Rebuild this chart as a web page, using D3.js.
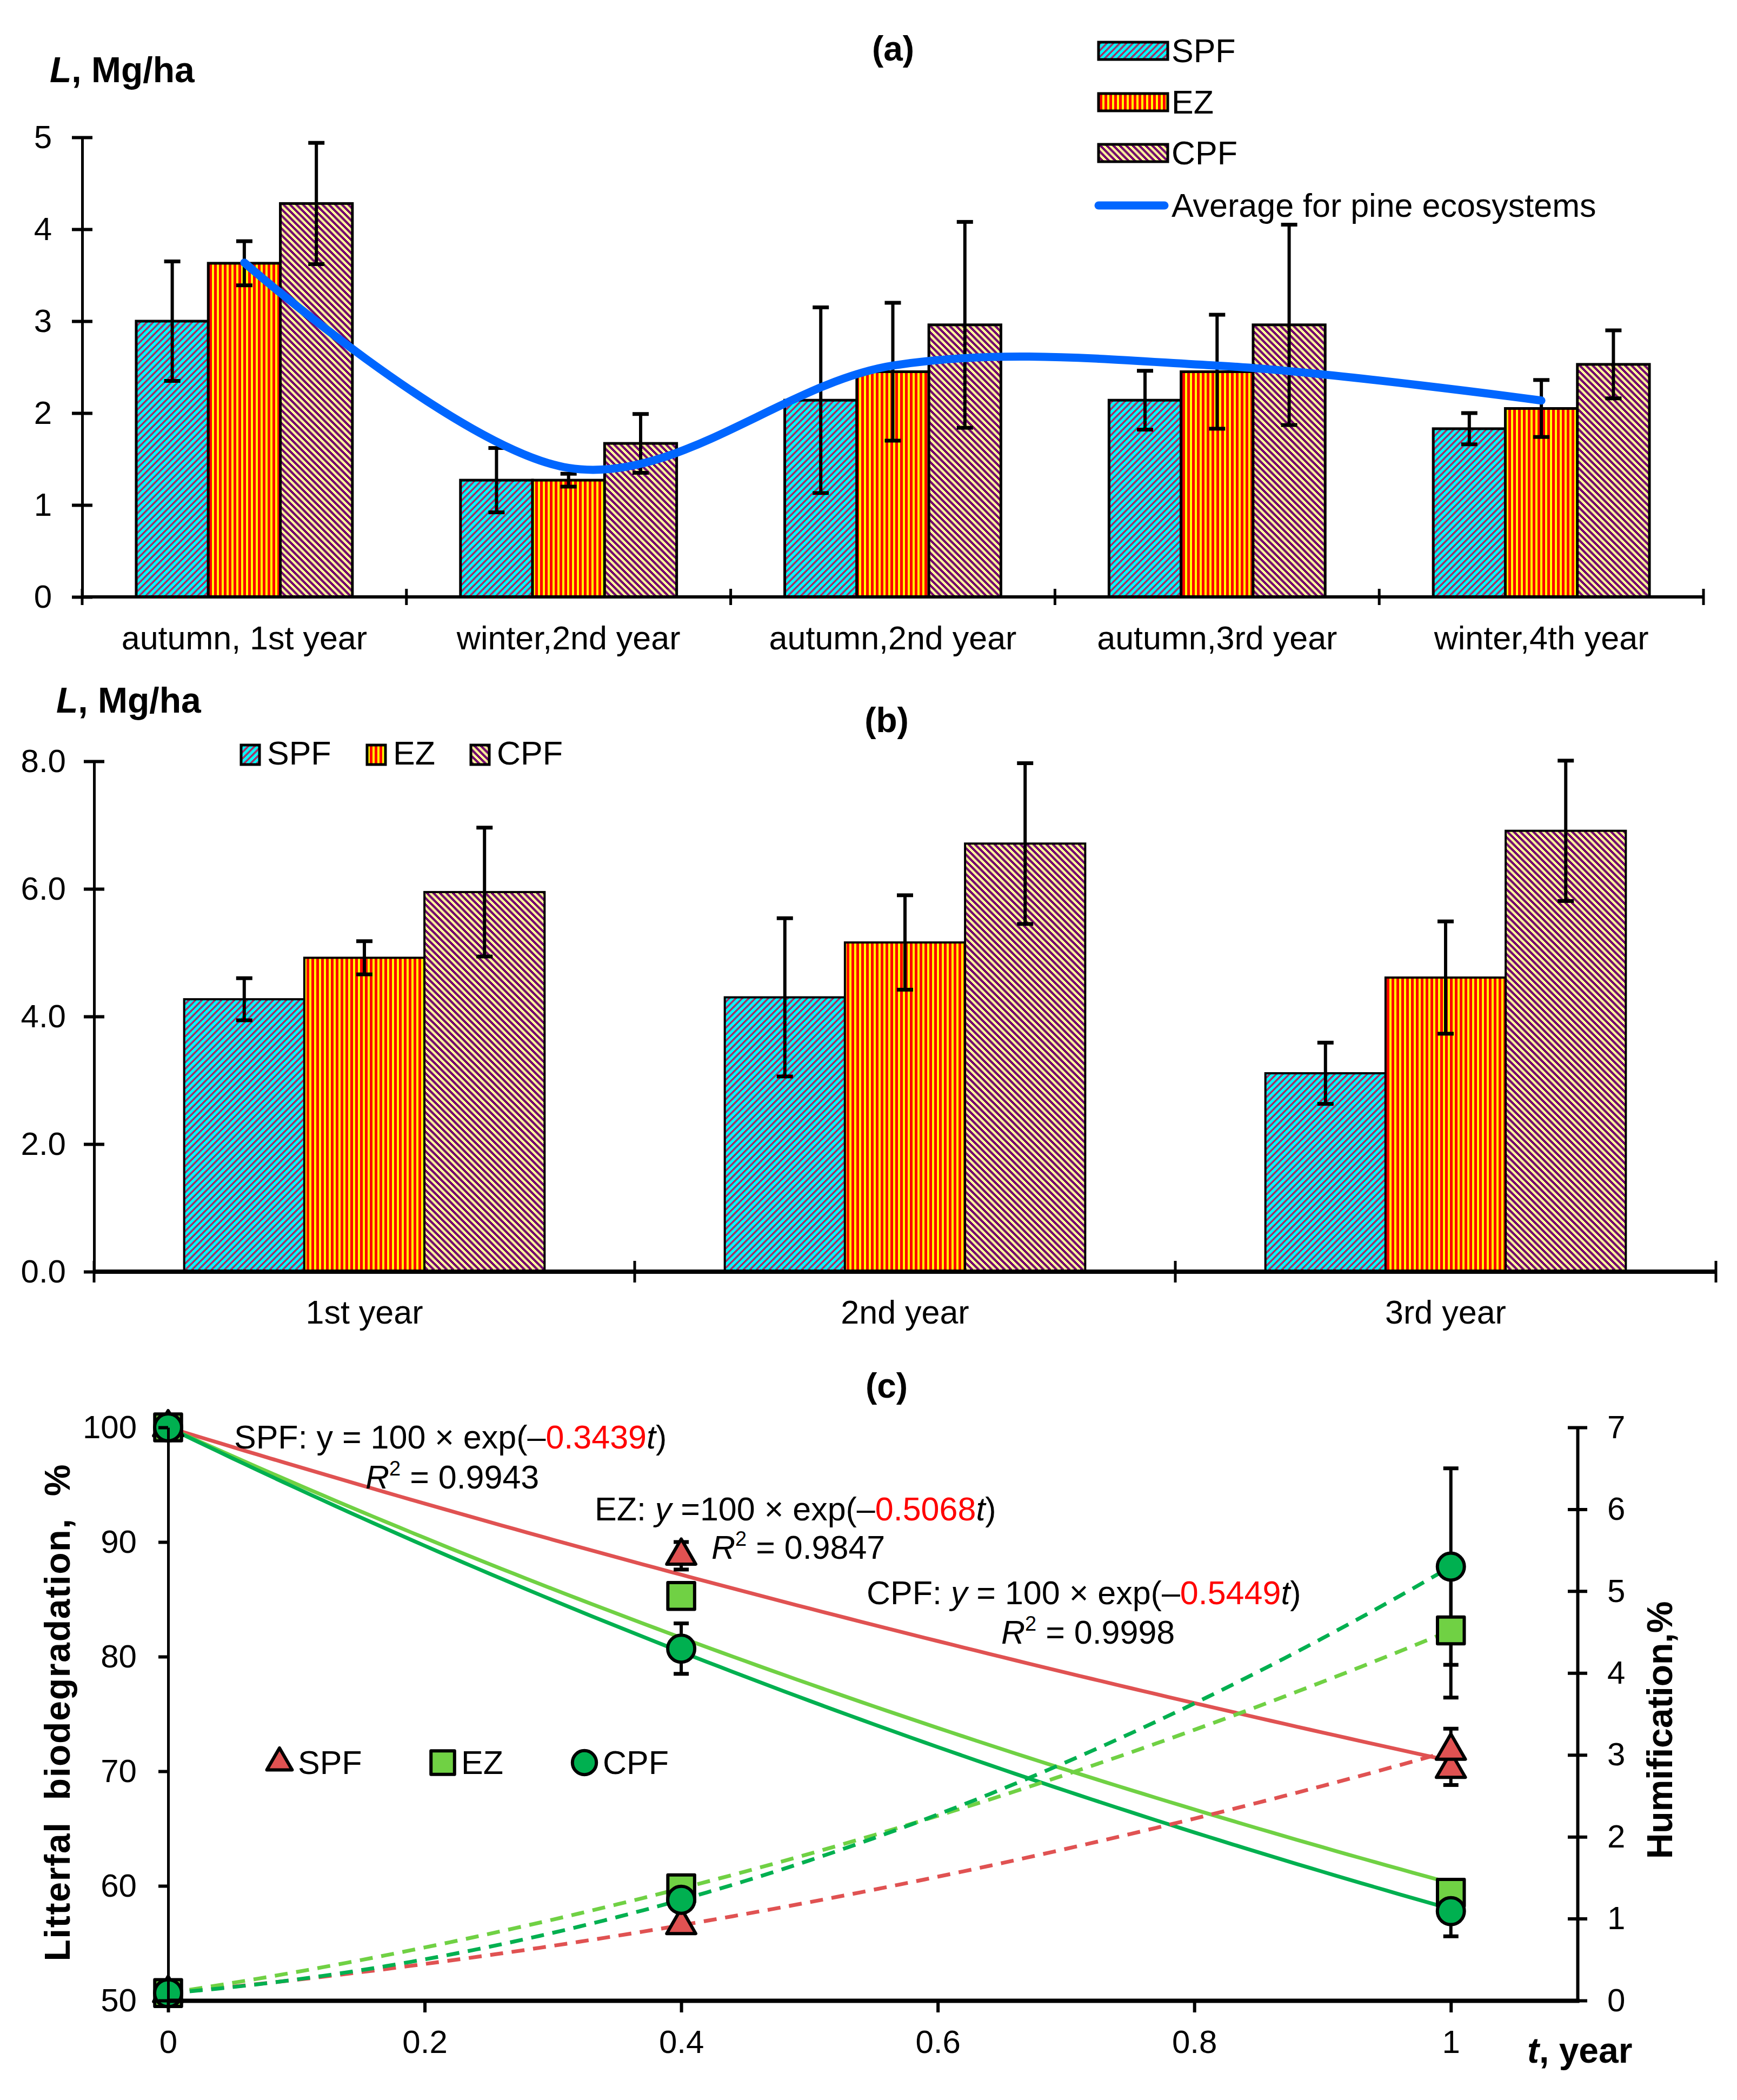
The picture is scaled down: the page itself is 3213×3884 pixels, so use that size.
<!DOCTYPE html>
<html>
<head>
<meta charset="utf-8">
<script src="https://cdn.jsdelivr.net/npm/d3@7"></script>
<style>
  body { margin: 0; background: #fff; }
  text { font-family: "Liberation Sans", Arial, sans-serif; }
</style>
</head>
<body>
<div id="chart"></div>
<script>
// Litterfall figure: (a) seasonal stocks, (b) yearly stocks, (c) biodegradation / humification

var series = ["SPF", "EZ", "CPF"];

// panel (a)
var catsA = ["autumn, 1st year", "winter,2nd year", "autumn,2nd year", "autumn,3rd year", "winter,4th year"];
var spfA = [3.00, 1.27, 2.14, 2.14, 1.83];
var ezA  = [3.63, 1.27, 2.45, 2.45, 2.05];
var cpfA = [4.28, 1.67, 2.96, 2.96, 2.53];
var spfAErr = [0.65, 0.35, 1.01, 0.32, 0.17];
var ezAErr  = [0.24, 0.07, 0.75, 0.62, 0.31];
var cpfAErr = [0.66, 0.32, 1.12, 1.09, 0.37];
var ticksA = [0, 1, 2, 3, 4, 5];

// panel (b)
var catsB = ["1st year", "2nd year", "3rd year"];
var spfB = [4.27, 4.30, 3.11];
var ezB  = [4.92, 5.16, 4.61];
var cpfB = [5.95, 6.71, 6.91];
var spfBErr = [0.33, 1.24, 0.48];
var ezBErr  = [0.26, 0.74, 0.88];
var cpfBErr = [1.01, 1.26, 1.10];
var ticksB = [0, 2, 4, 6, 8];

// panel (c)
var tYear = [0, 0.4, 1];
var bioSPF = [100, 88.8, 70.2];
var bioEZ  = [100, 85.3, 59.4];
var bioCPF = [100, 80.7, 57.8];
var bioSPFErr = [0, 1.2, 1.4];
var bioEZErr  = [0, 0, 0.5];
var bioCPFErr = [0, 2.2, 2.2];
var humSPF = [0.09, 0.92, 3.05];
var humEZ  = [0.09, 1.37, 4.52];
var humCPF = [0.09, 1.23, 5.30];
var humSPFErr = [0, 0, 0.27];
var humEZErr  = [0, 0.14, 0.82];
var humCPFErr = [0, 0, 1.20];
var rateK = ["0.3439", "0.5068", "0.5449"];
var rSq = ["0.9943", "0.9847", "0.9998"];
var ticksCx = [0, 0.2, 0.4, 0.6, 0.8, 1];
var ticksCl = [50, 60, 70, 80, 90, 100];
var ticksCr = [0, 1, 2, 3, 4, 5, 6, 7];

var colC = {SPF: "#E05252", EZ: "#70D144", CPF: "#00B050"};

var svg = d3.select("#chart").append("svg")
    .attr("width", 3213)
    .attr("height", 3884);

// hatch fills, drawn as crisp pixel staircases like the office-style patterns
var defs = svg.append("defs");
function diag(id, bg, fg, size, w, dir) {
  var p = defs.append("pattern")
      .attr("id", id)
      .attr("patternUnits", "userSpaceOnUse")
      .attr("width", size).attr("height", size);
  p.append("rect").attr("width", size).attr("height", size).attr("fill", bg);
  var g = p.append("g").attr("fill", fg).attr("shape-rendering", "crispEdges");
  for (var r = 0; r < size / 2; r++) {
    var x0 = ((dir * -2 * r) % size + size) % size;
    [x0, x0 - size].forEach(function(xx) {
      g.append("rect").attr("x", xx).attr("y", 2 * r).attr("width", w).attr("height", 2);
    });
  }
}
function vert(id, bg, fg, size, w) {
  var p = defs.append("pattern")
      .attr("id", id)
      .attr("patternUnits", "userSpaceOnUse")
      .attr("width", size).attr("height", size);
  p.append("rect").attr("width", size).attr("height", size).attr("fill", bg);
  p.append("rect").attr("width", w).attr("height", size).attr("fill", fg)
      .attr("shape-rendering", "crispEdges");
}
diag("pSPF", "#00FFFF", "#A83064", 12, 5, 1);
vert("pEZ", "#FFFF00", "#FF0000", 9, 4.5);
diag("pCPF", "#FFFF99", "#730070", 12, 6, -1);
var fills = {SPF: "url(#pSPF)", EZ: "url(#pEZ)", CPF: "url(#pCPF)"};

function boldLabel(x, y, size) {
  var t = svg.append("text").attr("x", x).attr("y", y)
      .attr("font-size", size).attr("font-weight", "bold");
  t.append("tspan").attr("font-style", "italic").text("L");
  t.append("tspan").text(", Mg/ha");
}

// generic grouped bar panel
function barPanel(cats, vals, errs, x, y, opt) {
  var sub = d3.scaleBand().domain(series)
      .range([-x.bandwidth() / 3, x.bandwidth() / 3]);
  var rows = [];
  cats.forEach(function(c, i) {
    series.forEach(function(s, j) {
      rows.push({c: c, s: s, v: vals[j][i], e: errs[j][i]});
    });
  });
  var cx = function(d) { return x(d.c) + x.bandwidth() / 2 + sub(d.s) + sub.bandwidth() / 2; };

  svg.append("g").selectAll("rect").data(rows).enter().append("rect")
      .attr("x", function(d) { return x(d.c) + x.bandwidth() / 2 + sub(d.s); })
      .attr("y", function(d) { return y(d.v); })
      .attr("width", sub.bandwidth())
      .attr("height", function(d) { return y(0) - y(d.v); })
      .attr("fill", function(d) { return fills[d.s]; })
      .attr("stroke", "#000")
      .attr("stroke-width", opt.barStroke);

  var eg = svg.append("g").attr("stroke", "#000").attr("stroke-width", 6);
  rows.forEach(function(d) {
    var xx = cx(d), y1 = y(d.v - d.e), y2 = y(d.v + d.e);
    eg.append("line").attr("x1", xx).attr("x2", xx).attr("y1", y1).attr("y2", y2);
    eg.append("line").attr("x1", xx - 15).attr("x2", xx + 15).attr("y1", y1).attr("y2", y1).attr("stroke-width", 7);
    eg.append("line").attr("x1", xx - 15).attr("x2", xx + 15).attr("y1", y2).attr("y2", y2).attr("stroke-width", 7);
  });

  // y axis with cross ticks
  var ay = svg.append("g")
      .attr("transform", "translate(" + x.range()[0] + ",0)")
      .call(d3.axisLeft(y).tickValues(opt.ticks).tickFormat(opt.fmt)
            .tickSize(19).tickPadding(opt.pad).tickSizeOuter(0));
  ay.attr("font-size", 60);
  ay.select(".domain").attr("stroke-width", 5);
  ay.selectAll(".tick line").attr("x1", 19).attr("x2", -19).attr("stroke-width", 6);
  ay.selectAll(".tick text").attr("fill", "#000");

  // x axis: line, category boundary ticks, labels
  var base = y(0);
  var bounds = cats.map(function(c) { return x(c); }).concat([x.range()[1]]);
  svg.append("line").attr("x1", x.range()[0]).attr("x2", x.range()[1])
      .attr("y1", base).attr("y2", base)
      .attr("stroke", "#000").attr("stroke-width", opt.axStroke);
  svg.append("g").selectAll("line").data(bounds).enter().append("line")
      .attr("x1", function(d) { return d; }).attr("x2", function(d) { return d; })
      .attr("y1", base - opt.tick).attr("y2", base + opt.tick)
      .attr("stroke", "#000").attr("stroke-width", 5);
  svg.append("g").selectAll("text").data(cats).enter().append("text")
      .attr("x", function(d) { return x(d) + x.bandwidth() / 2; })
      .attr("y", opt.labelY)
      .attr("text-anchor", "middle")
      .attr("font-size", 61)
      .text(function(d) { return d; });
  return cx;
}

// ---------- panel (a)
var xA = d3.scaleBand().domain(catsA).range([152, 3151]);
var yA = d3.scaleLinear().domain([0, 5]).range([1104, 254]);
barPanel(catsA, [spfA, ezA, cpfA], [spfAErr, ezAErr, cpfAErr], xA, yA,
  {barStroke: 5, ticks: ticksA, fmt: d3.format("d"), pad: 37, axStroke: 6, tick: 15, labelY: 1201});

var avgA = catsA.map(function(c, i) { return {c: c, v: d3.mean([spfA[i], ezA[i], cpfA[i]])}; });
svg.append("path").datum(avgA)
    .attr("fill", "none").attr("stroke", "#0066FF").attr("stroke-width", 15)
    .attr("stroke-linecap", "round")
    .attr("d", d3.line()
        .x(function(d) { return xA(d.c) + xA.bandwidth() / 2; })
        .y(function(d) { return yA(d.v); })
        .curve(d3.curveCatmullRom.alpha(0)));

boldLabel(92, 152, 66);
svg.append("text").attr("x", 1652).attr("y", 112).attr("text-anchor", "middle")
    .attr("font-size", 64).attr("font-weight", "bold").text("(a)");

// legend (a)
var legA = ["SPF", "EZ", "CPF", "Average for pine ecosystems"];
var legAy = [94, 189, 283, 380];
legA.forEach(function(name, i) {
  if (i < 3) {
    svg.append("rect").attr("x", 2032).attr("y", legAy[i] - 16).attr("width", 128).attr("height", 32)
        .attr("fill", fills[name]).attr("stroke", "#000").attr("stroke-width", 5);
  } else {
    svg.append("line").attr("x1", 2032).attr("x2", 2154).attr("y1", legAy[i]).attr("y2", legAy[i])
        .attr("stroke", "#0066FF").attr("stroke-width", 15).attr("stroke-linecap", "round");
  }
  svg.append("text").attr("x", 2167).attr("y", legAy[i] + 21).attr("font-size", 61).text(name);
});

// ---------- panel (b)
var xB = d3.scaleBand().domain(catsB).range([174, 3174]);
var yB = d3.scaleLinear().domain([0, 8]).range([2352, 1408]);
barPanel(catsB, [spfB, ezB, cpfB], [spfBErr, ezBErr, cpfBErr], xB, yB,
  {barStroke: 4, ticks: ticksB, fmt: d3.format(".1f"), pad: 33, axStroke: 8, tick: 20, labelY: 2448});

boldLabel(104, 1318, 66);
svg.append("text").attr("x", 1640).attr("y", 1354).attr("text-anchor", "middle")
    .attr("font-size", 64).attr("font-weight", "bold").text("(b)");

var legBx = [446, 679, 871];
series.forEach(function(s, i) {
  svg.append("rect").attr("x", legBx[i]).attr("y", 1378).attr("width", 34).attr("height", 36)
      .attr("fill", fills[s]).attr("stroke", "#000").attr("stroke-width", 5);
  svg.append("text").attr("x", legBx[i] + 48).attr("y", 1414).attr("font-size", 61).text(s);
});

// ---------- panel (c)
var xC = d3.scaleLinear().domain([0, 1.1]).range([311, 2921]);
var yL = d3.scaleLinear().domain([50, 100]).range([3700, 2640]);
var yR = d3.scaleLinear().domain([0, 7]).range([3700, 2640]);

svg.append("text").attr("x", 1640).attr("y", 2585).attr("text-anchor", "middle")
    .attr("font-size", 64).attr("font-weight", "bold").text("(c)");

var bio = {SPF: bioSPF, EZ: bioEZ, CPF: bioCPF};
var bioErr = {SPF: bioSPFErr, EZ: bioEZErr, CPF: bioCPFErr};
var hum = {SPF: humSPF, EZ: humEZ, CPF: humCPF};
var humErr = {SPF: humSPFErr, EZ: humEZErr, CPF: humCPFErr};
var shapes = {SPF: d3.symbolTriangle, EZ: d3.symbolSquare, CPF: d3.symbolCircle};
var areas = {SPF: 1250, EZ: 2450, CPF: 1960};

// exponential trend lines from the fitted coefficients
var tt = d3.range(0, 1.0001, 0.01);
series.forEach(function(s, i) {
  var k = +rateK[i];
  svg.append("path").datum(tt)
      .attr("fill", "none").attr("stroke", colC[s]).attr("stroke-width", 7)
      .attr("d", d3.line()
          .x(function(t) { return xC(t); })
          .y(function(t) { return yL(100 * Math.exp(-k * t)); }));
});

// humification: 2nd-order polynomial trend through the three points
function quad(ys) {
  var x0 = tYear[0], x1 = tYear[1], x2 = tYear[2];
  return function(t) {
    return ys[0] * (t - x1) * (t - x2) / ((x0 - x1) * (x0 - x2)) +
           ys[1] * (t - x0) * (t - x2) / ((x1 - x0) * (x1 - x2)) +
           ys[2] * (t - x0) * (t - x1) / ((x2 - x0) * (x2 - x1));
  };
}
["SPF", "EZ", "CPF"].forEach(function(s) {
  var f = quad(hum[s]);
  svg.append("path").datum(tt)
      .attr("fill", "none").attr("stroke", colC[s]).attr("stroke-width", 7)
      .attr("stroke-dasharray", "24,16")
      .attr("d", d3.line()
          .x(function(t) { return xC(t); })
          .y(function(t) { return yR(f(t)); }));
});

// error bars
var ceg = svg.append("g").attr("stroke", "#000").attr("stroke-width", 6);
function errBar(t, v, e, sc) {
  if (!e) return;
  var xx = xC(t), y1 = sc(v - e), y2 = sc(v + e);
  ceg.append("line").attr("x1", xx).attr("x2", xx).attr("y1", y1).attr("y2", y2);
  ceg.append("line").attr("x1", xx - 14).attr("x2", xx + 14).attr("y1", y1).attr("y2", y1).attr("stroke-width", 7);
  ceg.append("line").attr("x1", xx - 14).attr("x2", xx + 14).attr("y1", y2).attr("y2", y2).attr("stroke-width", 7);
}
series.forEach(function(s) {
  tYear.forEach(function(t, i) {
    errBar(t, bio[s][i], bioErr[s][i], yL);
    errBar(t, hum[s][i], humErr[s][i], yR);
  });
});

// markers
series.forEach(function(s) {
  var sym = d3.symbol().type(shapes[s]).size(areas[s]);
  var g = svg.append("g");
  tYear.forEach(function(t, i) {
    [[bio[s][i], yL], [hum[s][i], yR]].forEach(function(p) {
      g.append("path").attr("d", sym())
          .attr("transform", "translate(" + xC(t) + "," + p[1](p[0]) + ")")
          .attr("fill", colC[s]).attr("stroke", "#000").attr("stroke-width", 6)
          .attr("stroke-linejoin", "round");
    });
  });
});

// axes (c)
var al = svg.append("g").attr("transform", "translate(311,0)")
    .call(d3.axisLeft(yL).tickValues(ticksCl).tickFormat(d3.format("d"))
          .tickSize(18).tickPadding(40).tickSizeOuter(0));
al.attr("font-size", 60);
al.select(".domain").attr("stroke-width", 5);
al.selectAll(".tick line").attr("stroke-width", 6);

var ar = svg.append("g").attr("transform", "translate(2918,0)")
    .call(d3.axisRight(yR).tickValues(ticksCr).tickFormat(d3.format("d"))
          .tickSize(18).tickPadding(37).tickSizeOuter(0));
ar.attr("font-size", 60);
ar.select(".domain").attr("stroke-width", 6);
ar.selectAll(".tick line").attr("x1", -18).attr("x2", 18).attr("stroke-width", 6);

var ab = svg.append("g").attr("transform", "translate(0,3700)")
    .call(d3.axisBottom(xC).tickValues(ticksCx).tickFormat(d3.format("~g"))
          .tickSize(22).tickPadding(32).tickSizeOuter(0));
ab.attr("font-size", 60);
ab.select(".domain").attr("stroke-width", 8);
ab.selectAll(".tick line").attr("stroke-width", 6);
svg.selectAll(".tick text").attr("fill", "#000");

// axis titles (c)
var tx = svg.append("text").attr("x", 2825).attr("y", 3815)
    .attr("font-size", 66).attr("font-weight", "bold");
tx.append("tspan").attr("font-style", "italic").text("t");
tx.append("tspan").text(", year");

svg.append("text")
    .attr("transform", "translate(129,3168) rotate(-90)")
    .attr("text-anchor", "middle").attr("font-size", 66).attr("font-weight", "bold")
    .attr("textLength", 919).attr("lengthAdjust", "spacing")
    .style("white-space", "pre")
    .text("Litterfal  biodegradation,  %");

svg.append("text")
    .attr("transform", "translate(3093,3200) rotate(-90)")
    .attr("text-anchor", "middle").attr("font-size", 66).attr("font-weight", "bold")
    .text("Humification,%");

// trend equations
var eqs = [
  {name: "SPF", x1: 433, y1: 2679, x2: 676, y2: 2753, yIt: false, gap: " = "},
  {name: "EZ", x1: 1100, y1: 2812, x2: 1316, y2: 2883, yIt: true, gap: " =" },
  {name: "CPF", x1: 1603, y1: 2967, x2: 1852, y2: 3040, yIt: true, gap: " = "}
];
eqs.forEach(function(q, i) {
  var t1 = svg.append("text").attr("x", q.x1).attr("y", q.y1).attr("font-size", 61)
      .style("white-space", "pre");
  t1.append("tspan").text(q.name + ": ");
  t1.append("tspan").attr("font-style", q.yIt ? "italic" : "normal").text("y");
  t1.append("tspan").text(q.gap + "100 \u00d7 exp(\u2013");
  t1.append("tspan").attr("fill", "#FF0000").text(rateK[i]);
  t1.append("tspan").attr("font-style", "italic").text("t");
  t1.append("tspan").text(")");

  var t2 = svg.append("text").attr("x", q.x2).attr("y", q.y2).attr("font-size", 61)
      .style("white-space", "pre");
  t2.append("tspan").attr("font-style", "italic").text("R");
  t2.append("tspan").attr("font-size", 38).attr("dy", -24).text("2");
  t2.append("tspan").attr("dy", 24).text(" = " + rSq[i]);
});

// legend (c)
var legCx = [517, 819, 1081];
var legArea = {SPF: 950, EZ: 1900, CPF: 1550};
series.forEach(function(s, i) {
  svg.append("path").attr("d", d3.symbol().type(shapes[s]).size(legArea[s])())
      .attr("transform", "translate(" + legCx[i] + ",3260)")
      .attr("fill", colC[s]).attr("stroke", "#000").attr("stroke-width", 6)
      .attr("stroke-linejoin", "round");
  svg.append("text").attr("x", legCx[i] + 34).attr("y", 3281).attr("font-size", 61).text(s);
});
</script>
</body>
</html>
